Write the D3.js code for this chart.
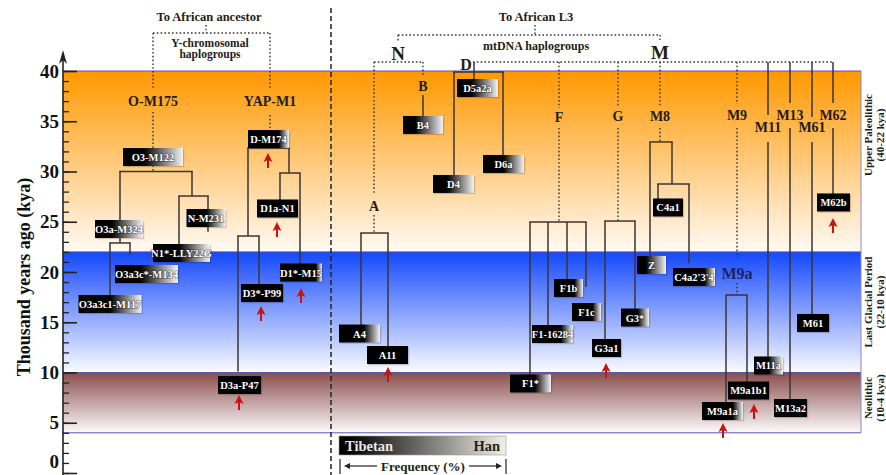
<!DOCTYPE html>
<html><head><meta charset="utf-8">
<script src="https://cdn.jsdelivr.net/npm/d3@7/dist/d3.min.js"></script>
<style>
body{margin:0;background:#fff}
svg{display:block}
text{font-family:"Liberation Serif","DejaVu Serif",serif;font-weight:bold}
</style>
</head><body>
<svg id="chart" width="886" height="475"></svg>
<script>
// ---------------- DATA ----------------
const yTickValues = [0,5,10,15,20,25,30,35,40];
const periodNames = ["Upper Paleolithic","Last Glacial Period","Neolithic"];
const periodSpans = ["(40-22 kya)","(22-10 kya)","(10-4 kya)"];
const periodFrom = [40,22,10];
const periodTo = [22,10,4];

// [haplogroup, column, age (kya), Tibetan share of frequency bar]
const yBoxes = [
  ["O3-M122",153,31.44,0.35],["D-M174",268.5,33.23,0.75],["O3a-M324",119,24.28,0.35],
  ["N-M231",206,25.37,0.5],["N1*-LLY22G",181.5,21.89,0.45],["O3a3c*-M134",146.5,19.8,0.4],
  ["O3a3c1-M117",110,16.82,0.5],["D1a-N1",277.5,26.32,1],["D1*-M15",301,19.95,0.85],
  ["D3*-P99",262,17.91,1],["D3a-P47",239.5,8.76,1]
];
const mtBoxes = [
  ["B4",423,34.63,0.3],["D5a2a",477.5,38.31,0.35],["D4",453.5,28.76,0.35],["D6a",503.5,30.75,0.5],
  ["A4",359.5,13.88,0.6],["A11",387.5,11.74,1],["F1b",568.5,18.41,0.7],["F1c",586.5,16.02,0.7],
  ["F1-16284",552.5,13.83,0.7],["F1*",530.5,8.91,0.6],["G3a1",606.5,12.44,1],["G3*",635,15.47,0.6],
  ["C4a1",668,26.42,1],["Z",651.5,20.7,0.3],["C4a2'3'4",694,19.5,0.75],["M9a1b1",748.5,8.21,1],
  ["M9a1a",722.5,6.17,0.75],["M11a",768.5,10.7,0.5],["M13a2",790.5,6.47,1],["M61",813,14.93,1],
  ["M62b",833.5,26.92,1]
];

// founder / clade labels [text, column, kya]
const rootLabels = [["N",398,41.79],["M",660,41.89]];
const cladeLabels = [["O-M175",153,36.92],["YAP-M1",270,36.92],["A",374,26.47],["B",423,38.41],
  ["F",559,35.42],["G",618,35.52],["M8",660,35.52],["M9",737,35.62],["M11",768,34.33],
  ["M13",790,35.62],["M61",812,34.33],["M62",833,35.62]];
const subLabels = [["D",466,40.6]];
const subLabelsBlue = [["M9a",737,19.9]];

// tree: splits [colA, colB, kya], stems [col, fromKya, toKya]
const splits = [[120,192,30.0],[179,208,27.56],[110,130,22.89],[248,289,32.34],[238,259,23.58],[280,300,29.85],
  [361,388,23.88],[454,503,39.9],[530,586,24.98],[605,635,25.07],[650,672,32.94],[658,689,28.76],[726,747,17.71]];
const stems = [[120,30,22.89],[192,30,27.56],[179,27.56,21.89],[208,27.56,24.0],[110,22.89,16.82],[130,22.89,21.7],
  [248,32.34,23.58],[238,23.58,10.1],[259,23.58,17.91],[289,32.34,29.85],[280,29.85,26.32],[300,29.85,19.95],
  [423,37.61,34.63],[474,40.9,38.31],[454,39.9,28.76],[503,39.9,30.75],[361,23.88,13.88],[388,23.88,11.74],
  [530,24.98,8.91],[548,24.98,13.83],[567,24.98,18.41],[586,24.98,18.51],[605,25.07,12.44],[635,25.07,15.47],
  [650,32.94,20.7],[672,32.94,28.76],[658,28.76,26.42],[689,28.76,20.9],[726,17.71,6.17],[747,17.71,8.21],
  [768,40.9,35.62],[768,32.94,10.7],[790,40.9,36.82],[790,34.33,6.47],[812,40.9,35.42],[812,32.94,14.93],
  [833,40.9,36.82],[833,34.33,26.92]];
const dottedStems = [[206,44.58,43.78],[153,43.78,38.31],[153,35.92,30.0],[270,43.78,38.31],[270,35.62,33.23],
  [535,44.58,43.58],[398,43.58,42.89],[660,43.58,43.08],[374,40.9,27.76],[374,25.67,23.88],[423,40.9,39.5],
  [559,40.9,36.32],[559,34.33,24.98],[618,40.9,36.52],[618,34.33,25.07],[660,40.9,36.52],[660,34.33,32.94],
  [737,40.9,36.72],[737,34.33,21.39],[737,18.91,17.71]];
const dottedSplits = [[153,270,43.78],[398,660,43.58],[374,423,40.9],[473,833,40.9]];

// red arrows: expansions [column, kya at arrow head]
const arrows = [[268,31.84],[277,24.98],[301,18.41],[261,16.62],[239,7.76],[388,10.55],[606,10.95],
  [754,6.87],[723,4.98],[833,25.37]];

// header annotations [text, column, kya]
const headers = [["To African ancestor",209,45.37,12.5],["Y-chromosomal",210,42.79,11.5],["haplogroups",210,41.69,11.5],
  ["To African L3",536,45.37,12.5],["mtDNA haplogroups",536,42.49,12]];

// ---------------- LAYOUT / STYLE ----------------
const BOXW = {"O3-M122":60,"D-M174":41,"O3a-M324":48,"N-M231":39,"N1*-LLY22G":57,"O3a3c*-M134":63,
  "O3a3c1-M117":63,"D1a-N1":41,"D1*-M15":42,"D3*-P99":42,"D3a-P47":43,"B4":40,"D5a2a":41,"D4":41,"D6a":41,
  "A4":41,"A11":41,"F1b":29,"F1c":29,"F1-16284":41,"F1*":41,"G3a1":29,"G3*":28,"C4a1":30,"Z":29,
  "C4a2'3'4":42,"M9a1b1":41,"M9a1a":41,"M11a":29,"M13a2":33,"M61":32,"M62b":33};
const bandColors = [["#ff9800","#fffaf4"],["#1448fb","#fafbff"],["#8a4d4d","#fdfbfb"]];
const periodLabelKya = [33.63,17.01,7.46];
const BOXH = 18;
const ink = "#231c14";

const svg = d3.select("#chart");
const defs = svg.append("defs");
const y = d3.scaleLinear().domain([0,40]).range([473,71]);
const x = d3.scaleLinear().domain([0,886]).range([0,886]);
const X0 = x(63), X1 = x(861);

// bands
periodNames.forEach((p,i)=>{
  const id = "band"+i;
  const g = defs.append("linearGradient").attr("id",id).attr("x1",0).attr("y1",0).attr("x2",0).attr("y2",1);
  g.append("stop").attr("offset",0).attr("stop-color",bandColors[i][0]);
  g.append("stop").attr("offset",1).attr("stop-color",bandColors[i][1]);
  svg.append("rect").attr("x",X0).attr("y",y(periodFrom[i])).attr("width",X1-X0)
    .attr("height",y(periodTo[i])-y(periodFrom[i])).attr("fill",`url(#${id})`);
});
const borders = [40,22,10,4];
svg.selectAll(".bline").data(borders).join("line")
  .attr("x1",X0).attr("x2",X1).attr("y1",d=>y(d)).attr("y2",d=>y(d))
  .attr("stroke","#5656b0").attr("stroke-width",1);
svg.append("line").attr("x1",X1).attr("x2",X1).attr("y1",y(40)).attr("y2",y(4)).attr("stroke","#8a8ac4").attr("stroke-width",1);

// period labels
periodNames.forEach((p,i)=>{
  const cy = y(periodLabelKya[i]);
  svg.append("text").attr("transform",`translate(868,${cy}) rotate(-90)`).attr("text-anchor","middle")
    .attr("dominant-baseline","central").attr("font-size",11).attr("fill",ink).text(p);
  svg.append("text").attr("transform",`translate(879.5,${cy}) rotate(-90)`).attr("text-anchor","middle")
    .attr("dominant-baseline","central").attr("font-size",11).attr("fill",ink).text(periodSpans[i]);
});

// axis
const minor = svg.append("g").attr("transform",`translate(${X0},0)`)
  .call(d3.axisLeft(y).tickValues(d3.range(0,41,1)).tickSize(-6).tickFormat(""));
minor.select(".domain").remove();
minor.selectAll("line").attr("stroke","#222").attr("stroke-width",1.3);
const major = svg.append("g").attr("transform",`translate(${X0},0)`)
  .call(d3.axisLeft(y).tickValues(yTickValues).tickSize(-14).tickPadding(4));
major.select(".domain").remove();
major.selectAll("line").attr("stroke","#222").attr("stroke-width",1.6);
major.selectAll("text").attr("font-size",19).attr("fill","#111")
  .attr("font-family",'"Liberation Serif","DejaVu Serif",serif').attr("font-weight","bold")
  .attr("dy",d=>d===0?"-0.3em":"0.32em");
svg.append("line").attr("x1",X0).attr("x2",X0).attr("y1",475).attr("y2",58).attr("stroke","#222").attr("stroke-width",1.6);
svg.append("path").attr("d",`M${X0-4},${64} L${X0},${50} L${X0+4},${64} L${X0},${60} Z`).attr("fill","#222");
svg.append("text").attr("transform",`translate(24,${y(19.5)}) rotate(-90)`).attr("text-anchor","middle")
  .attr("dominant-baseline","central").attr("font-size",18).attr("fill","#111").text("Thousand years ago (kya)");

// divider
svg.append("line").attr("x1",x(331)).attr("x2",x(331)).attr("y1",8).attr("y2",475)
  .attr("stroke","#222").attr("stroke-width",1.5).attr("stroke-dasharray","5,3");

// dotted connectors
const dots = svg.append("g").attr("stroke","#333").attr("stroke-width",1.4).attr("stroke-dasharray","1.6,2.2");
dots.selectAll(".ds").data(dottedStems).join("line")
  .attr("x1",d=>x(d[0])).attr("x2",d=>x(d[0])).attr("y1",d=>y(d[1])).attr("y2",d=>y(d[2]));
dots.selectAll(".dh").data(dottedSplits).join("line")
  .attr("x1",d=>x(d[0])).attr("x2",d=>x(d[1])).attr("y1",d=>y(d[2])).attr("y2",d=>y(d[2]));

// tree
const tree = svg.append("g").attr("stroke","#3a3530").attr("stroke-width",1.5).attr("fill","none");
tree.selectAll(".st").data(stems).join("line")
  .attr("x1",d=>x(d[0])).attr("x2",d=>x(d[0])).attr("y1",d=>y(d[1])).attr("y2",d=>y(d[2]));
tree.selectAll(".sp").data(splits).join("line")
  .attr("x1",d=>x(d[0])-0.75).attr("x2",d=>x(d[1])+0.75).attr("y1",d=>y(d[2])).attr("y2",d=>y(d[2]));

// headers
headers.forEach(([t,c,k,fs])=>{
  svg.append("text").attr("x",x(c)).attr("y",y(k)).attr("text-anchor","middle").attr("dominant-baseline","central")
    .attr("font-size",fs).attr("fill",ink).text(t);
});
function labels(arr,fs,color){
  svg.append("g").selectAll("text").data(arr).join("text")
    .attr("x",d=>x(d[1])).attr("y",d=>y(d[2])).attr("text-anchor","middle").attr("dominant-baseline","central")
    .attr("font-size",fs).attr("fill",color).text(d=>d[0]);
}
labels(rootLabels,19,ink);
labels(cladeLabels,14,ink);
labels(subLabels,16,ink);
labels(subLabelsBlue,16,"#1a2460");

// boxes
const allBoxes = yBoxes.concat(mtBoxes);
allBoxes.forEach((b,i)=>{
  const g = defs.append("linearGradient").attr("id","bx"+i);
  g.append("stop").attr("offset",0).attr("stop-color","#000");
  g.append("stop").attr("offset",b[3]).attr("stop-color","#000");
  g.append("stop").attr("offset",1).attr("stop-color",b[3]>=1?"#000":"#f4f4f4");
});
const bg = svg.append("g").selectAll("g").data(allBoxes).join("g")
  .attr("transform",d=>`translate(${x(d[1])-BOXW[d[0]]/2},${y(d[2])-BOXH/2})`);
bg.append("rect").attr("x",1.2).attr("y",1.2).attr("width",d=>BOXW[d[0]]).attr("height",BOXH).attr("fill","rgba(0,0,0,0.18)");
bg.append("rect").attr("width",d=>BOXW[d[0]]).attr("height",BOXH).attr("fill",(d,i)=>`url(#bx${i})`);
bg.append("text").attr("x",d=>BOXW[d[0]]/2).attr("y",BOXH/2+0.5).attr("text-anchor","middle")
  .attr("dominant-baseline","central").attr("font-size",10.5).attr("fill","#fff")
  .attr("stroke","rgba(0,0,0,0.55)").attr("stroke-width",1.2).attr("paint-order","stroke").text(d=>d[0]);

// red arrows
const ag = svg.append("g");
arrows.forEach(([c,k])=>{
  const px=x(c), py=y(k);
  ag.append("line").attr("x1",px).attr("x2",px).attr("y1",py+5).attr("y2",py+15).attr("stroke","#cc1111").attr("stroke-width",2);
  ag.append("path").attr("d",`M${px},${py} L${px-4.5},${py+9} L${px},${py+7} L${px+4.5},${py+9} Z`).attr("fill","#cc1111");
});

// legend
const lg = defs.append("linearGradient").attr("id","legendGrad");
lg.append("stop").attr("offset",0).attr("stop-color","#000");
lg.append("stop").attr("offset",0.08).attr("stop-color","#050505");
lg.append("stop").attr("offset",1).attr("stop-color","#f2efe6");
svg.append("rect").attr("x",x(339)).attr("y",436).attr("width",x(506)-x(339)).attr("height",19)
  .attr("fill","url(#legendGrad)").attr("stroke","#999").attr("stroke-width",0.6);
svg.append("text").attr("x",x(345)).attr("y",446).attr("dominant-baseline","central").attr("font-size",14.5)
  .attr("fill","#e6e6e6").text("Tibetan");
svg.append("text").attr("x",x(500)).attr("y",446).attr("text-anchor","end").attr("dominant-baseline","central")
  .attr("font-size",14.5).attr("fill","#222").text("Han");
svg.append("text").attr("x",x(423)).attr("y",466).attr("text-anchor","middle").attr("dominant-baseline","central")
  .attr("font-size",13).attr("fill",ink).text("Frequency (%)");
const fa = svg.append("g").attr("stroke","#222").attr("stroke-width",1.2);
fa.append("line").attr("x1",x(340)).attr("x2",x(340)).attr("y1",459).attr("y2",474);
fa.append("line").attr("x1",x(506)).attr("x2",x(506)).attr("y1",459).attr("y2",474);
fa.append("line").attr("x1",x(346)).attr("x2",x(377)).attr("y1",466).attr("y2",466);
fa.append("line").attr("x1",x(469)).attr("x2",x(500)).attr("y1",466).attr("y2",466);
svg.append("path").attr("d",`M${x(344)},466 L${x(350)},463 L${x(350)},469 Z`).attr("fill","#222");
svg.append("path").attr("d",`M${x(502)},466 L${x(496)},463 L${x(496)},469 Z`).attr("fill","#222");
</script>
</body></html>
